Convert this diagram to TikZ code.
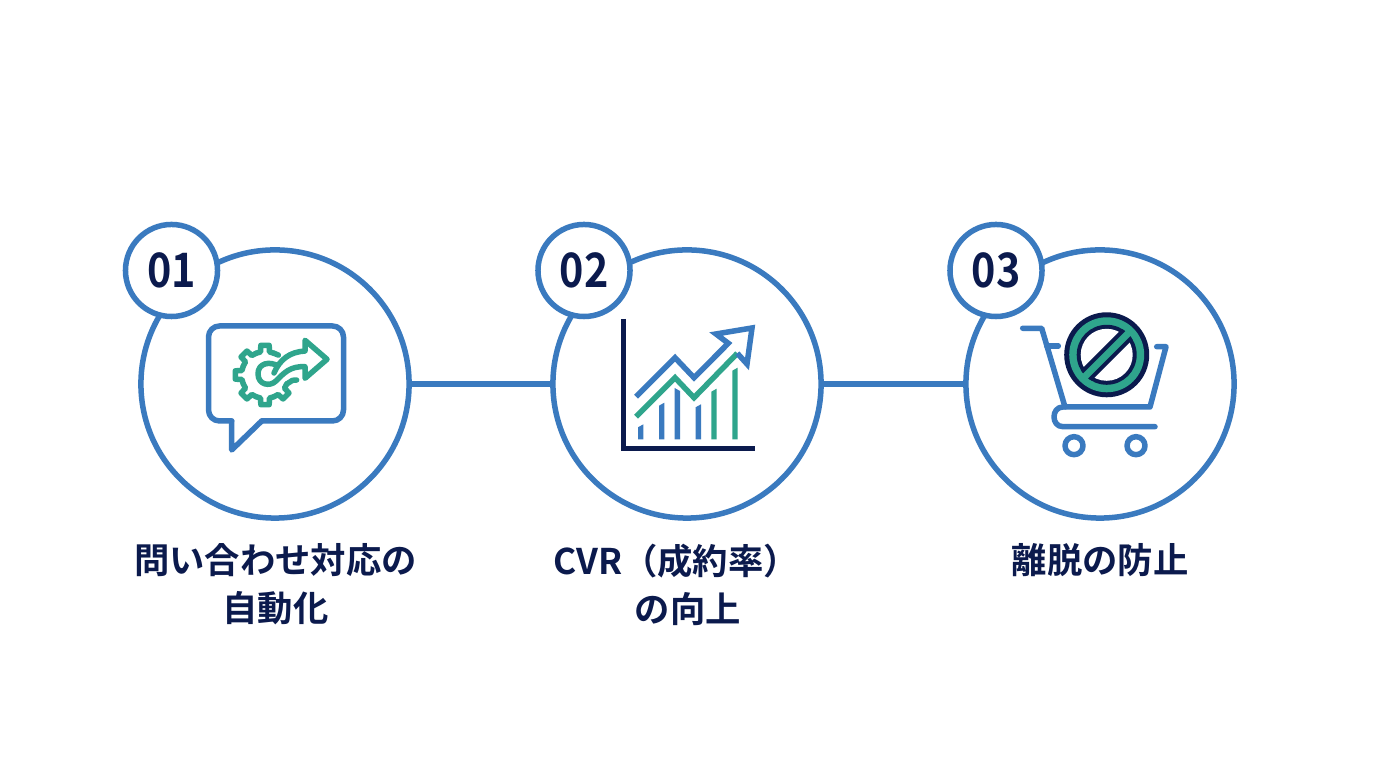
\documentclass[tikz,border=0pt]{standalone}
\usepackage{fontspec}
\setmainfont[BoldFont={Noto Sans CJK JP Bold}]{Noto Sans CJK JP}
\usepackage{xcolor}
\usetikzlibrary{positioning}
\definecolor{accent}{HTML}{3A7ABF}
\definecolor{ink}{HTML}{0B1A4D}
\definecolor{teal}{HTML}{2FA58C}
\tikzset{
  bigcircle/.style={circle, draw=accent, line width=0.055cm, fill=white, minimum size=2.68cm, inner sep=0pt},
  numcircle/.style={circle, draw=accent, line width=0.055cm, fill=white, minimum size=0.92cm, inner sep=0pt, text=ink,
    font=\bfseries\fontsize{13.5}{15}\selectfont},
  caption/.style={anchor=north, inner sep=0pt, align=center, text=ink,
    font=\bfseries\fontsize{10.05}{13.66}\selectfont},
  iconline/.style={line width=0.055cm, line join=round, line cap=round},
}
\begin{document}
\begin{tikzpicture}[x=0.01cm, y=-0.01cm]
        % page, coordinates in pixels of the 1376x768 frame
        \fill[white] (0,-1) rectangle (1376,767);
        \useasboundingbox (0,-1) rectangle (1376,767);

        \node[bigcircle] (circA) at (275,383) {};
        \node[bigcircle] (circB) at (687,383) {};
        \node[bigcircle] (circC) at (1100,383) {};
        \draw[accent, line width=0.055cm] (circA) -- (circB);
        \draw[accent, line width=0.055cm] (circB) -- (circC);

        \node[numcircle] (numA) at (171.5,269.5) {\scalebox{0.87}[1]{01}};
        \node[numcircle] (numB) at (584,269.5) {\scalebox{0.87}[1]{02}};
        \node[numcircle] (numC) at (996,269.5) {\scalebox{0.87}[1]{03}};

        \node[caption] (capA) at (275.5,542) {問い合わせ対応の\\自動化};
        \node[caption] (capB) at (688,542) {CVR（成約率）\hspace*{6.8pt}\\の向上};
        \node[caption] (capC) at (1100,542) {離脱の防止};

        % speech bubble
        \draw[accent, iconline, rounded corners=0.11cm] (231.7,420) -- (208.5,420) -- (208.5,325) -- (343.5,325) -- (343.5,420) -- (261.7,420);
        \draw[accent, iconline] (231.7,420) -- (231.7,449) -- (261.7,420);
        % gear
        \begin{scope}[shift={(265,374)}]
          \foreach \a in {-90,-135,-180,-225,-270,-315} {
            \draw[teal, iconline] (\a-22.5:23.5) -- (\a-11:23.5) -- (\a-8:30) -- (\a+8:30) -- (\a+11:23.5) -- (\a+22.5:23.5);
          }
          \draw[teal, iconline] (-67.5:23.5) -- (-56:24);
          \draw[teal, iconline] (22.5:23.5) -- (11:28) -- (9:32);
        \end{scope}
        % gear arrow
        \draw[teal, iconline] (278,365) .. controls (270,360) and (258,362) .. (258,372.7)
          .. controls (258,384) and (270,386) .. (276,380)
          .. controls (284,372) and (290,365) .. (305,365.7)
          -- (305,377.3) -- (327,358.3) -- (305,339.3) -- (305,350)
          .. controls (290,351) and (280,358) .. (274,372);

        % chart
        \foreach \x/\t/\s/\c in {640.7/423.3/3/accent, 661.7/401.7/3/accent, 677.3/390/-3/accent, 698.3/403.3/3/accent, 714/387.7/3/teal, 735/366.7/3/teal} {
          \fill[\c] (\x-2.7,438.3) -- (\x+2.7,438.3) -- (\x+2.7,\t) -- (\x-2.7,\t+\s) -- cycle;
        }
        \draw[ink, line width=0.055cm] (623.3,318) |- (755,447.7);
        \draw[teal, line width=0.055cm, line join=miter] (636,415.7) -- (675,376.7) -- (694,396.7) -- (737.3,352.3);
        \draw[accent, line width=0.055cm, line join=miter] (636,395.7) -- (675,356.7) -- (694,376.7) -- (728.3,342.3) -- (716,333) -- (752,327) -- (747,363) -- (737.3,352.3);

        % cart
        \draw[accent, iconline] (1022.7,327.3) -- (1041.7,327.3) -- (1065,406) -- (1150,406) -- (1166,345.7) -- (1156.7,345.7);
        \draw[accent, iconline] (1046.7,345) -- (1058.3,345);
        \draw[accent, iconline] (1065,406) -- (1063,406) .. controls (1051,406) and (1051,425.7) .. (1063,425.7) -- (1155,425.7);
        \draw[accent, iconline] (1074,444.7) circle (9);
        \draw[accent, iconline] (1136,444.7) circle (9);
        % no-entry sign on the cart
        \begin{scope}[shift={(1106.7,353.8)}]
          \fill[ink] (0,0) circle (42.5);
          \fill[teal] (0,0) circle (37.5);
          \fill[ink] (0,0) circle (30);
          \fill[white] (0,0) circle (26);
          \begin{scope}
            \clip (0,0) circle (30);
            \draw[ink, line width=0.15cm] (-24,24) -- (24,-24);
          \end{scope}
          \draw[teal, line width=0.07cm] (-24,24) -- (24,-24);
        \end{scope}
      \end{tikzpicture}
\end{document}
